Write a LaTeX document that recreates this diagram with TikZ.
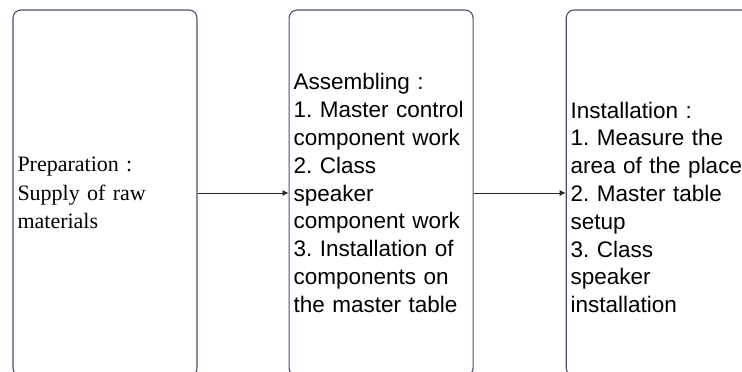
\documentclass[tikz,border=0pt]{standalone}
\usepackage{fontspec}
\setmainfont{Liberation Serif}
\newfontfamily\arialfont{Liberation Sans}
\usetikzlibrary{arrows.meta, positioning}
\frenchspacing

\begin{document}
\begin{tikzpicture}[x=1pt, y=1pt,
    stage/.style={draw={rgb,255:red,72;green,80;blue,112}, line width=1.1pt,
      rounded corners=8pt, minimum width=184pt, minimum height=366pt,
      text width=175pt, inner xsep=4.5pt, align=left},
    sanslist/.style={font=\arialfont\fontsize{22.5}{27.8}\selectfont},
    flow/.style={-{Latex[length=6pt, width=6pt]}, line width=0.8pt, black!85}]
  % Frame
  \path[use as bounding box, clip] (0,0) rectangle (742,-372);
  % Stages
  \node[stage, font=\fontsize{22}{28.5}\selectfont] (prep) at (105,-193)
    {Preparation :\\Supply of raw\\materials};
  \node[stage, sanslist, right=91pt of prep] (assemble)
    {Assembling :\\1. Master control\\component work\\2. Class\\speaker\\component work\\3. Installation of\\components on\\the master table};
  \node[stage, sanslist, text height=16pt, text depth=166pt, right=92pt of assemble] (install)
    {Installation :\\1. Measure the\\area of the place\\2. Master table\\setup\\3. Class\\speaker\\installation};
  % Arrows
  \draw[flow] (prep) -- (assemble);
  \draw[flow] (assemble) -- (install);
\end{tikzpicture}
\end{document}
